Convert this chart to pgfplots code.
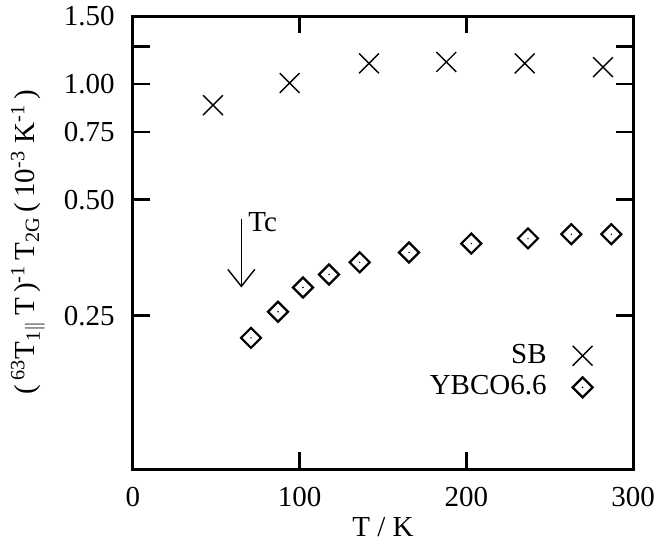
\documentclass[border=0pt]{standalone}
\usepackage{fontspec}
\setmainfont{Liberation Serif}
\usepackage{pgfplots}
\pgfplotsset{compat=1.18}
\usetikzlibrary{arrows.meta}
\pgfdeclareplotmark{ddiamond}{%
  \pgfpathmoveto{\pgfqpoint{0pt}{\pgfplotmarksize}}%
  \pgfpathlineto{\pgfqpoint{\pgfplotmarksize}{0pt}}%
  \pgfpathlineto{\pgfqpoint{0pt}{-\pgfplotmarksize}}%
  \pgfpathlineto{\pgfqpoint{-\pgfplotmarksize}{0pt}}%
  \pgfpathclose
  \pgfusepathqstroke
  \pgfpathcircle{\pgfpointorigin}{0.4pt}%
  \pgfusepathqfill
}
\pgfplotstableread{
T v
48 0.88
94 1.005
141.6 1.13
188 1.14
235 1.13
282 1.105
}\sbdata
\pgfplotstableread{
T v
70.8 0.219
87 0.256
102 0.296
117.6 0.320
136 0.344
165.6 0.365
203 0.385
237 0.397
263 0.407
287 0.407
}\ybcodata
\begin{document}
\fontsize{14.5}{17}\selectfont
\begin{tikzpicture}
\begin{axis}[
  at={(0,0)}, anchor=south west,
  scale only axis, width=250pt, height=226.5pt,
  xmin=0, xmax=300, ymode=log, ymin=0.1, ymax=1.5,
  xtick={0,100,200,300},
  ytick={0.25,0.5,0.75,1,1.25,1.5},
  yticklabels={0.25,0.50,0.75,1.00,,1.50},
  yminorticks=false,
  tick align=inside, major tick length=8.5pt,
  tick style={line width=1.3pt, black},
  axis line style={line width=1.5pt},
  /pgf/number format/assume math mode=true,
  yticklabel style={inner sep=0pt, xshift=-9pt},
  xticklabel style={inner sep=0pt, yshift=-9pt},
  xlabel={T / K},
  ylabel={(\,\textsuperscript{63}T\textsubscript{1$\parallel$}\,T\,)\textsuperscript{-1}\,T\textsubscript{2G}\,(\,10\textsuperscript{-3} K\textsuperscript{-1}\,)},
  every axis x label/.style={at={(axis description cs:0.5,0)}, yshift=-29pt, anchor=center},
  every axis y label/.style={at={(axis description cs:0,0.5)}, xshift=-52.5pt, rotate=90, anchor=center},
  legend style={draw=none, fill=none, at={(0.92,0.215)}, anchor=east, inner sep=0pt, row sep=0pt, column sep=11pt},
  legend cell align=right,
  legend plot pos=right,
]
\addplot[only marks, mark=x, mark size=7pt, line width=0.7pt, black] table[x=T,y=v]{\sbdata};
\addlegendentry{SB}
\addplot[only marks, mark=ddiamond, mark size=5pt, line width=1.1pt, black] table[x=T,y=v]{\ybcodata};
\addlegendentry{YBCO6.6}
\draw[line width=0.7pt, -{Straight Barb[length=8.5pt, width=13.5pt]}] (axis cs:65,0.447) -- (axis cs:65,0.296);
\node[anchor=west, inner sep=0pt] at (axis cs:69,0.437) {Tc};
\end{axis}
\pgfresetboundingbox
\useasboundingbox (-66.5pt,-39pt) rectangle (261.5pt,234.5pt);
\end{tikzpicture}
\end{document}
